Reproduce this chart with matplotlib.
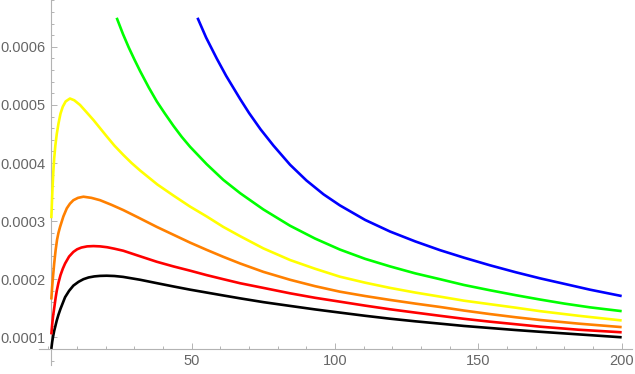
import matplotlib
matplotlib.use("Agg")
import matplotlib.pyplot as plt
from matplotlib.ticker import MultipleLocator, FixedLocator

# values, y in units of 1e-4
SCALE = 1e-4
BLACK_X = [1.0, 1.3, 1.6, 2.0, 2.5, 2.9, 3.5, 4.2, 5.0, 5.8, 7.2, 8.7, 10.5, 12.2, 14.0, 16.0, 18.0, 20.3,
           23.0, 26.0, 29.0, 32.0, 38.0, 43.6, 49.4, 55.2, 61.0, 66.9, 75.0, 84.3, 93.0, 101.7, 110.5,
           119.2, 128.0, 136.6, 145.0, 154.0, 163.0, 171.5, 185.0, 200.0]
BLACK_Y = [0.80, 0.92, 1.01, 1.11, 1.21, 1.29, 1.39, 1.49, 1.59, 1.69, 1.80, 1.89, 1.955, 2.00, 2.03, 2.048,
           2.057, 2.06, 2.055, 2.04, 2.015, 1.99, 1.93, 1.875, 1.82, 1.77, 1.72, 1.67, 1.605, 1.54, 1.48,
           1.425, 1.37, 1.32, 1.275, 1.235, 1.195, 1.16, 1.125, 1.095, 1.05, 1.0]
RED_X = [1.0, 1.3, 1.6, 2.0, 2.5, 2.9, 3.5, 4.2, 5.0, 5.8, 7.2, 8.7, 10.0, 11.5, 13.5, 15.7, 18.0, 20.5,
         23.0, 26.1, 31.0, 37.8, 43.6, 49.4, 55.2, 61.0, 66.9, 75.0, 84.3, 93.0, 101.7, 110.5, 119.2,
         128.0, 136.6, 145.0, 154.0, 163.0, 171.5, 185.0, 200.0]
RED_Y = [1.05, 1.22, 1.36, 1.50, 1.68, 1.80, 1.94, 2.07, 2.18, 2.27, 2.39, 2.47, 2.515, 2.545, 2.565, 2.57,
         2.565, 2.55, 2.525, 2.49, 2.41, 2.30, 2.22, 2.147, 2.07, 2.00, 1.93, 1.85, 1.757, 1.68, 1.613,
         1.545, 1.482, 1.425, 1.37, 1.318, 1.269, 1.225, 1.183, 1.13, 1.086]
ORANGE_X = [1.0, 1.3, 1.6, 2.0, 2.5, 3.0, 3.5, 4.05, 5.2, 6.4, 7.5, 8.7, 10.3, 12.2, 15.0, 18.0, 22.0, 26.1,
            31.0, 37.8, 43.6, 49.4, 55.2, 61.0, 66.9, 75.0, 84.3, 93.0, 101.7, 110.5, 119.2, 128.0,
            136.6, 145.0, 154.0, 163.0, 171.5, 185.0, 200.0]
ORANGE_Y = [1.65, 1.87, 2.05, 2.27, 2.50, 2.68, 2.80, 2.90, 3.08, 3.22, 3.30, 3.36, 3.40, 3.42, 3.40, 3.36,
            3.28, 3.19, 3.07, 2.90, 2.765, 2.63, 2.505, 2.385, 2.27, 2.126, 1.99, 1.88, 1.785, 1.71, 1.643,
            1.58, 1.522, 1.46, 1.40, 1.345, 1.298, 1.235, 1.175]
YELLOW_X = [1.0, 1.2, 1.4, 1.7, 2.0, 2.4, 2.9, 3.5, 4.2, 5.0, 6.0, 7.5, 9.0, 11.0, 13.0, 15.7, 18.0, 20.3,
            23.0, 26.1, 29.0, 32.0, 38.0, 43.6, 49.4, 55.2, 61.0, 66.9, 75.0, 84.3, 93.0, 101.7, 110.5,
            119.2, 128.0, 136.6, 145.0, 154.0, 163.0, 171.5, 185.0, 200.0]
YELLOW_Y = [3.05, 3.30, 3.55, 3.85, 4.08, 4.30, 4.50, 4.68, 4.85, 4.97, 5.06, 5.11, 5.08, 5.00, 4.89, 4.74,
            4.60, 4.46, 4.30, 4.14, 4.00, 3.87, 3.63, 3.44, 3.25, 3.08, 2.90, 2.74, 2.53, 2.33, 2.18, 2.043,
            1.94, 1.85, 1.77, 1.70, 1.63, 1.57, 1.51, 1.45, 1.37, 1.29]
GREEN_X = [23.8, 26.0, 28.0, 30.0, 32.0, 35.0, 37.8, 40.5, 43.6, 46.5, 49.4, 55.2, 61.0, 66.9, 75.0, 84.3,
           93.0, 101.7, 110.5, 119.2, 128.0, 136.6, 145.0, 154.0, 163.0, 171.5, 180.0, 189.0, 200.0]
GREEN_Y = [6.50, 6.22, 5.99, 5.78, 5.58, 5.30, 5.06, 4.86, 4.64, 4.45, 4.28, 3.98, 3.71, 3.48, 3.20, 2.92,
           2.70, 2.51, 2.35, 2.22, 2.10, 2.00, 1.90, 1.81, 1.725, 1.65, 1.58, 1.515, 1.45]
BLUE_X = [52.0, 55.0, 58.7, 62.0, 66.9, 70.0, 74.0, 78.5, 84.3, 90.0, 96.0, 101.7, 110.5, 119.2, 128.0,
          136.6, 145.0, 154.0, 163.0, 171.5, 180.0, 188.9, 200.0]
BLUE_Y = [6.50, 6.16, 5.80, 5.50, 5.10, 4.86, 4.58, 4.30, 3.97, 3.70, 3.46, 3.27, 3.02, 2.82, 2.65,
          2.50, 2.37, 2.24, 2.12, 2.015, 1.92, 1.82, 1.71]

SERIES = [(BLACK_X, BLACK_Y, "#000000"), (RED_X, RED_Y, "#ff0000"), (ORANGE_X, ORANGE_Y, "#ff8000"),
          (YELLOW_X, YELLOW_Y, "#ffff00"), (GREEN_X, GREEN_Y, "#00ff00"), (BLUE_X, BLUE_Y, "#0000ff")]
YTICKS = [1, 2, 3, 4, 5, 6]
YTICK_LABELS = ["0.0001", "0.0002", "0.0003", "0.0004", "0.0005", "0.0006"]
XTICKS = [50, 100, 150, 200]

AX_COL = "#b3b3b3"
TXT_COL = "#666666"

fig = plt.figure(figsize=(6.35, 3.74), dpi=100)
ax = fig.add_axes([39 / 635, 9 / 374, 593 / 635, 365 / 374])
for xs, ys, c in SERIES:
    ax.plot(xs, [v * SCALE for v in ys], color=c, lw=1.9, solid_capstyle="butt",
            solid_joinstyle="round", zorder=3)

ax.set_xlim(-3.3, 203.6)
ax.set_ylim(0.523e-4, 6.806e-4)
for s in ("top", "right"):
    ax.spines[s].set_visible(False)
ax.spines["left"].set_position(("data", 1.0))
ax.spines["bottom"].set_position(("data", 0.804e-4))
for s in ("left", "bottom"):
    ax.spines[s].set_color(AX_COL)
    ax.spines[s].set_linewidth(0.8)

ax.xaxis.set_major_locator(FixedLocator(XTICKS))
ax.xaxis.set_minor_locator(MultipleLocator(10))
ax.yaxis.set_major_locator(FixedLocator([v * SCALE for v in YTICKS]))
ax.yaxis.set_minor_locator(MultipleLocator(0.2e-4))
ax.set_yticklabels(YTICK_LABELS)
ax.set_xticklabels([str(v) for v in XTICKS])
ax.tick_params(which="both", direction="in", color=AX_COL, width=0.7)
ax.tick_params(which="major", length=4.2, labelsize=10.5, labelcolor=TXT_COL, pad=4)
ax.tick_params(which="minor", length=2.4)
for lab in ax.get_xticklabels() + ax.get_yticklabels():
    lab.set_family("Liberation Sans")

fig.savefig("out.png", dpi=100)
